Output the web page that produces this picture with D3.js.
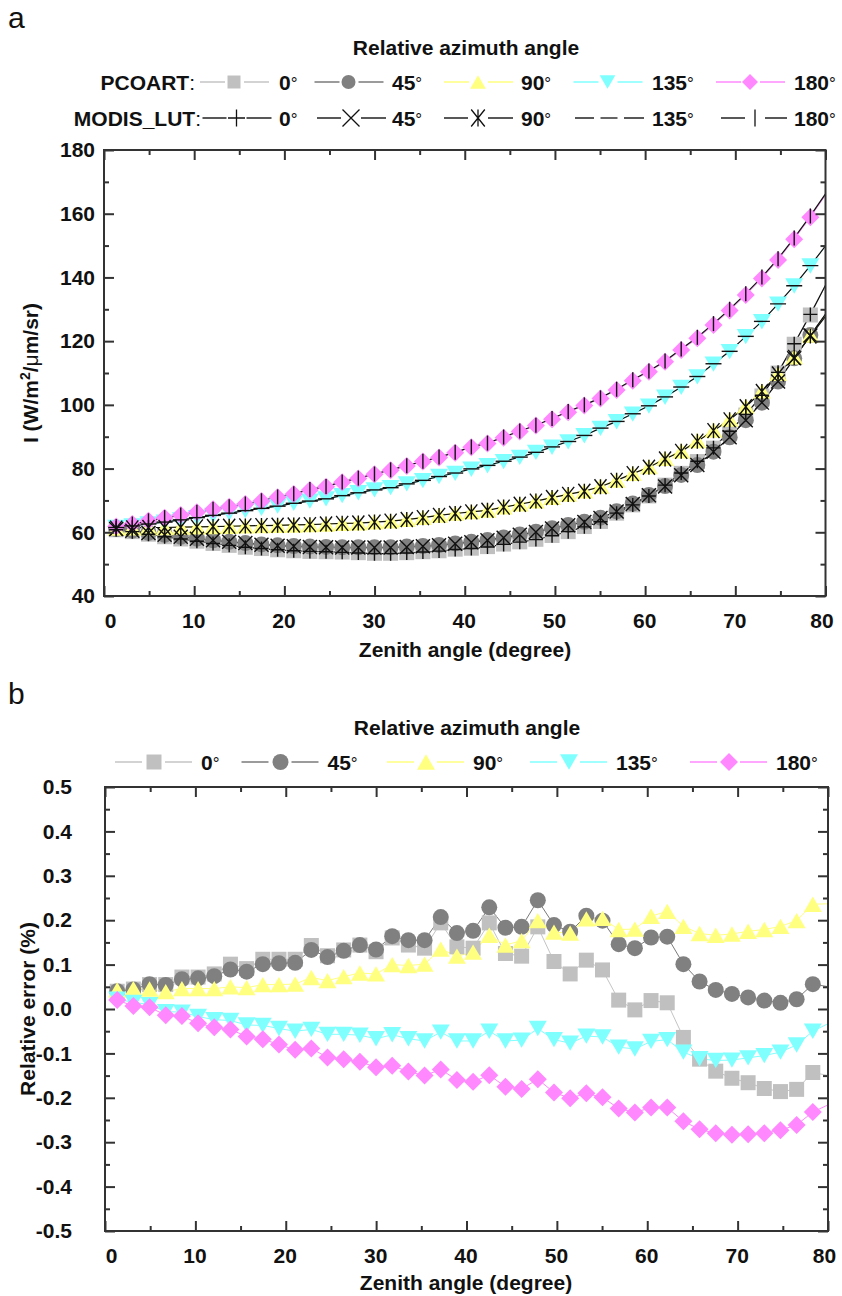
<!DOCTYPE html>
<html>
<head>
<meta charset="utf-8">
<script src="https://cdn.jsdelivr.net/npm/d3@7/dist/d3.min.js"></script>
<style>
html,body{margin:0;padding:0;background:#fff;}
svg text{font-family:"Liberation Sans",Arial,Helvetica,sans-serif;}
</style>
</head>
<body>
<svg id="chart" width="842" height="1296" xmlns="http://www.w3.org/2000/svg"></svg>
<script>
// ---------------- DATA ----------------
const zenith = [1.35,3.14,4.93,6.72,8.51,10.30,12.09,13.88,15.67,17.46,19.25,21.04,22.83,24.62,26.41,28.20,29.99,31.78,33.57,35.36,37.15,38.94,40.73,42.52,44.31,46.10,47.89,49.68,51.47,53.26,55.05,56.84,58.63,60.42,62.21,64.00,65.79,67.58,69.37,71.16,72.95,74.74,76.53,78.32,80.11];
const azimuthLabels = ["0","45","90","135","180"];

// Panel a: radiance I (W/m2/um/sr), PCOART
const pcoart0   = [60.8,60.2,59.4,58.6,57.9,57.2,56.5,55.9,55.3,54.9,54.5,54.2,54.0,53.9,53.8,53.6,53.4,53.4,53.6,53.9,54.2,54.7,55.0,55.5,56.3,57.0,57.8,59.0,60.2,61.8,63.4,66.0,68.6,71.4,74.8,78.5,82.2,86.4,91.6,96.8,102.8,110.0,119.0,128.2,138.0];
const pcoart45  = [61.0,60.5,59.8,59.2,58.6,58.0,57.5,57.0,56.6,56.2,55.9,55.7,55.5,55.4,55.3,55.3,55.3,55.3,55.5,55.7,56.0,56.5,57.0,57.6,58.4,59.3,60.2,61.3,62.3,63.3,64.6,66.6,69.0,71.7,74.5,78.0,81.1,85.3,89.8,95.2,100.7,107.3,114.6,121.9,129.0];
const pcoart90  = [61.3,61.4,61.5,61.5,61.6,61.7,61.8,61.9,62.0,62.1,62.2,62.3,62.4,62.6,62.8,63.0,63.3,63.6,64.1,64.7,65.4,66.0,66.5,67.0,68.0,68.9,69.9,71.0,72.0,73.0,74.5,76.4,78.5,80.6,83.2,85.6,88.8,92.1,95.5,99.6,104.4,109.9,115.1,121.9,128.5];
const pcoart135 = [61.5,62.0,62.6,63.2,63.9,64.6,65.3,66.0,66.8,67.5,68.2,69.1,69.8,70.5,71.5,72.4,73.3,74.0,75.2,76.2,77.5,78.5,79.8,80.9,82.2,83.5,85.1,86.7,88.4,90.3,92.6,94.7,97.1,99.6,102.4,105.5,108.8,112.8,116.7,121.4,126.1,131.6,137.3,143.6,150.3];
const pcoart180 = [61.8,62.6,63.6,64.6,65.4,66.3,67.2,68.0,68.9,69.8,71.0,72.0,73.3,74.3,75.7,76.9,78.2,79.5,80.8,82.2,83.5,85.0,86.7,87.9,89.7,91.6,93.5,95.5,97.7,99.8,102.0,104.7,107.6,110.4,113.5,117.2,120.9,125.1,129.6,134.5,139.7,145.5,152.0,158.9,166.3];

// Panel a: radiance I, MODIS_LUT
const modis0   = [60.8,60.2,59.4,58.6,57.9,57.2,56.5,55.9,55.3,54.9,54.5,54.2,54.0,53.9,53.7,53.5,53.3,53.3,53.5,53.8,54.1,54.6,54.9,55.4,56.2,56.9,57.7,58.9,60.2,61.7,63.3,66.0,68.6,71.4,74.8,78.6,82.3,86.5,91.7,97.0,103.0,110.2,119.2,128.4,138.2];
const modis45  = [61.0,60.5,59.8,59.2,58.6,58.0,57.5,57.0,56.6,56.1,55.8,55.6,55.4,55.3,55.2,55.2,55.2,55.2,55.4,55.6,55.9,56.4,56.9,57.5,58.3,59.2,60.1,61.2,62.2,63.2,64.5,66.5,68.9,71.6,74.4,77.9,81.1,85.3,89.8,95.2,100.7,107.3,114.6,121.8,128.9];
const modis90  = [61.3,61.4,61.5,61.5,61.6,61.7,61.8,61.9,62.0,62.1,62.2,62.3,62.4,62.6,62.8,62.9,63.2,63.5,64.0,64.6,65.3,65.9,66.4,66.9,67.9,68.8,69.8,70.9,71.9,72.9,74.3,76.3,78.4,80.4,83.0,85.4,88.6,91.9,95.3,99.4,104.2,109.7,114.9,121.6,128.2];
const modis135 = [61.5,62.0,62.6,63.2,63.9,64.6,65.3,66.0,66.8,67.5,68.2,69.1,69.8,70.5,71.5,72.4,73.3,74.0,75.2,76.3,77.5,78.6,79.9,81.0,82.3,83.6,85.1,86.8,88.5,90.4,92.7,94.8,97.2,99.7,102.5,105.6,108.9,112.9,116.8,121.5,126.2,131.7,137.4,143.7,150.3];
const modis180 = [61.8,62.6,63.6,64.6,65.4,66.3,67.2,68.0,68.9,69.9,71.1,72.1,73.4,74.4,75.8,77.0,78.3,79.6,80.9,82.3,83.6,85.1,86.8,88.0,89.9,91.8,93.6,95.7,97.9,100.0,102.2,104.9,107.9,110.6,113.8,117.5,121.2,125.5,130.0,134.9,140.1,145.9,152.4,159.3,166.7];

// Panel b: relative error (%)
const err0   = [0.040,0.045,0.055,0.055,0.072,0.072,0.079,0.101,0.091,0.112,0.112,0.112,0.143,0.120,0.133,0.144,0.129,0.160,0.144,0.137,0.194,0.140,0.137,0.194,0.125,0.119,0.185,0.107,0.079,0.110,0.088,0.020,-0.002,0.019,0.014,-0.064,-0.113,-0.140,-0.156,-0.166,-0.179,-0.186,-0.181,-0.143,-0.150];
const err45  = [0.040,0.044,0.056,0.054,0.067,0.069,0.074,0.089,0.084,0.101,0.103,0.104,0.133,0.117,0.131,0.144,0.134,0.164,0.155,0.155,0.207,0.171,0.176,0.229,0.183,0.185,0.245,0.189,0.174,0.210,0.199,0.146,0.137,0.161,0.163,0.101,0.062,0.043,0.034,0.026,0.019,0.014,0.022,0.056,0.050];
const err90  = [0.043,0.046,0.045,0.039,0.046,0.046,0.046,0.050,0.048,0.055,0.055,0.056,0.071,0.064,0.073,0.081,0.079,0.100,0.098,0.101,0.135,0.119,0.128,0.166,0.144,0.154,0.199,0.173,0.171,0.203,0.204,0.179,0.180,0.209,0.220,0.186,0.170,0.166,0.169,0.175,0.179,0.186,0.199,0.236,0.237];
const err135 = [0.022,0.015,0.010,-0.006,-0.007,-0.017,-0.024,-0.026,-0.036,-0.037,-0.044,-0.050,-0.046,-0.057,-0.057,-0.059,-0.067,-0.058,-0.067,-0.072,-0.052,-0.072,-0.072,-0.050,-0.072,-0.070,-0.044,-0.069,-0.077,-0.061,-0.063,-0.086,-0.090,-0.073,-0.069,-0.097,-0.112,-0.116,-0.115,-0.110,-0.105,-0.097,-0.081,-0.050,-0.032];
const err180 = [0.020,0.007,0.004,-0.014,-0.016,-0.032,-0.041,-0.046,-0.062,-0.068,-0.080,-0.092,-0.089,-0.109,-0.113,-0.119,-0.131,-0.128,-0.141,-0.150,-0.136,-0.160,-0.164,-0.149,-0.175,-0.180,-0.158,-0.188,-0.201,-0.190,-0.199,-0.224,-0.233,-0.222,-0.222,-0.253,-0.271,-0.280,-0.283,-0.282,-0.280,-0.273,-0.261,-0.232,-0.215];

// Ticks
const xTicksMajor = [0,10,20,30,40,50,60,70,80];
const xTicksMinor = [5,15,25,35,45,55,65,75];
const yTicksMajorA = [40,60,80,100,120,140,160,180];
const yTicksMinorA = [50,70,90,110,130,150,170];
const yTicksMajorB = [-0.5,-0.4,-0.3,-0.2,-0.1,0,0.1,0.2,0.3,0.4,0.5];
const yTicksMinorB = [-0.45,-0.35,-0.25,-0.15,-0.05,0.05,0.15,0.25,0.35,0.45];

// ---------------- STYLE ----------------
const FONT = '"Liberation Sans", Arial, Helvetica, sans-serif';
const FS = 21;
const fillColors = ["#c0c0c0","#808080","#ffff80","#80ffff","#ff88ff"];
const lineColors = ["#c4c4c4","#7a7a7a","#ffff80","#80ffff","#ff88ff"];
const pcoartShapes = ["square","circle","triUp","triDown","diamond"];
const modisShapes = ["plus","cross","star","hbar","vbar"];

function shapePath(type, s) {
  const h = s / 2;
  switch (type) {
    case "square":  return `M${-h},${-h}h${s}v${s}h${-s}Z`;
    case "circle":  return `M${h},0A${h},${h} 0 1,1 ${-h},0A${h},${h} 0 1,1 ${h},0Z`;
    case "triUp":   { const w = s * 0.56, t = s * 0.48; return `M0,${-t}L${w},${t}L${-w},${t}Z`; }
    case "triDown": { const w = s * 0.56, t = s * 0.48; return `M0,${t}L${w},${-t}L${-w},${-t}Z`; }
    case "diamond": return `M0,${-h}L${h},0L0,${h}L${-h},0Z`;
    case "plus":    return `M${-h},0H${h}M0,${-h}V${h}`;
    case "cross":   return `M${-h},${-h}L${h},${h}M${h},${-h}L${-h},${h}`;
    case "star":    return `M${-h*0.8},${-h}L${h*0.8},${h}M${h*0.8},${-h}L${-h*0.8},${h}M0,${-h}V${h}`;
    case "hbar":    return `M${-h},0H${h}`;
    case "vbar":    return `M0,${-h}V${h}`;
  }
}
const shapeSize = {square:15, circle:16, triUp:16, triDown:16, diamond:18, plus:14, cross:14, star:15, hbar:16, vbar:15};

const svg = d3.select("#chart");

function axesAndFrame(g, x, y, yMajor, yMinor, yFmt, yPad) {
  const [x0, x1] = x.range();
  const [yb, yt] = y.range();
  const styleAxis = sel => {
    sel.select(".domain").remove();
    sel.attr("color", "#333").attr("font-size", FS).attr("font-family", FONT).attr("font-weight", "bold");
    sel.selectAll(".tick line").attr("stroke-width", 2);
    sel.selectAll(".tick text").attr("fill", "#111");
  };
  const bx = g.append("g").attr("transform", `translate(0,${yb})`)
    .call(d3.axisBottom(x).tickValues(xTicksMajor).tickSize(-10).tickPadding(17).tickFormat(d3.format("d")))
    .call(styleAxis);
  bx.selectAll(".tick text").attr("dx", d => d === 0 ? 6 : (d === 80 ? -4 : -1));
  g.append("g").attr("transform", `translate(0,${yb})`)
    .call(d3.axisBottom(x).tickValues(xTicksMinor).tickSize(-5).tickFormat("")).call(styleAxis);
  g.append("g").attr("transform", `translate(0,${yt})`)
    .call(d3.axisTop(x).tickValues(xTicksMajor).tickSize(-10).tickFormat("")).call(styleAxis);
  g.append("g").attr("transform", `translate(0,${yt})`)
    .call(d3.axisTop(x).tickValues(xTicksMinor).tickSize(-5).tickFormat("")).call(styleAxis);
  g.append("g").attr("transform", `translate(${x0},0)`)
    .call(d3.axisLeft(y).tickValues(yMajor).tickSize(-10).tickPadding(yPad).tickFormat(yFmt)).call(styleAxis);
  g.append("g").attr("transform", `translate(${x0},0)`)
    .call(d3.axisLeft(y).tickValues(yMinor).tickSize(-5).tickFormat("")).call(styleAxis);
  g.append("g").attr("transform", `translate(${x1},0)`)
    .call(d3.axisRight(y).tickValues(yMajor).tickSize(-10).tickFormat("")).call(styleAxis);
  g.append("g").attr("transform", `translate(${x1},0)`)
    .call(d3.axisRight(y).tickValues(yMinor).tickSize(-5).tickFormat("")).call(styleAxis);
  g.append("rect").attr("x", x0).attr("y", yt).attr("width", x1 - x0).attr("height", yb - yt)
    .attr("fill", "none").attr("stroke", "#333").attr("stroke-width", 2);
}

function addClip(id, x, y) {
  const [x0, x1] = x.range();
  const [yb, yt] = y.range();
  svg.append("defs").append("clipPath").attr("id", id)
    .append("rect").attr("x", x0).attr("y", yt).attr("width", x1 - x0).attr("height", yb - yt);
}

function bold(sel) { return sel.attr("font-family", FONT).attr("font-weight", "bold").attr("font-size", FS).attr("fill", "#111"); }

function degreeLabel(g, tx, ty, label) {
  const t = bold(g.append("text").attr("x", tx).attr("y", ty));
  t.append("tspan").text(label);
  t.append("tspan").attr("font-weight", "normal").attr("font-size", 17).attr("dy", -1).text("°");
}

// ================= PANEL A =================
const xA = d3.scaleLinear().domain([0, 80]).range([104, 825.5]);
const yA = d3.scaleLinear().domain([40, 180]).range([596, 150]);
addClip("clipA", xA, yA);
const gA = svg.append("g");
const plotA = gA.append("g").attr("clip-path", "url(#clipA)");
const pcoartA = [pcoart0, pcoart45, pcoart90, pcoart135, pcoart180];
const modisA = [modis0, modis45, modis90, modis135, modis180];
const lineA = d3.line().x((d, i) => xA(zenith[i])).y(d => yA(d));

pcoartA.forEach((s, j) => {
  plotA.append("path").attr("d", lineA(s)).attr("fill", "none").attr("stroke", lineColors[j]).attr("stroke-width", 1);
});
modisA.forEach((s) => {
  plotA.append("path").attr("d", lineA(s)).attr("fill", "none").attr("stroke", "#111").attr("stroke-width", 1.2);
});
pcoartA.forEach((s, j) => {
  plotA.append("g").selectAll("path").data(s.filter((d, i) => zenith[i] <= 80)).join("path")
    .attr("transform", (d, i) => `translate(${xA(zenith[i])},${yA(d)})`)
    .attr("d", shapePath(pcoartShapes[j], shapeSize[pcoartShapes[j]]))
    .attr("fill", fillColors[j]);
});
modisA.forEach((s, j) => {
  plotA.append("g").selectAll("path").data(s.filter((d, i) => zenith[i] <= 80)).join("path")
    .attr("transform", (d, i) => `translate(${xA(zenith[i])},${yA(d)})`)
    .attr("d", shapePath(modisShapes[j], shapeSize[modisShapes[j]]))
    .attr("fill", "none").attr("stroke", "#111").attr("stroke-width", 1.4);
});
axesAndFrame(gA, xA, yA, yTicksMajorA, yTicksMinorA, d3.format("d"), 9);

bold(gA.append("text").attr("x", 465).attr("y", 657).attr("text-anchor", "middle")).text("Zenith angle (degree)");
{
  const t = bold(gA.append("text").attr("transform", "translate(38,373) rotate(-90)").attr("text-anchor", "middle"));
  t.append("tspan").text("I (W/m");
  t.append("tspan").attr("font-size", 14).attr("dy", -8).text("2");
  t.append("tspan").attr("dy", 8).text("/");
  t.append("tspan").attr("font-weight", "normal").text("μ");
  t.append("tspan").text("m/sr)");
}

svg.append("text").attr("x", 8).attr("y", 28).attr("font-family", FONT).attr("font-size", 30).attr("fill", "#111").text("a");
bold(svg.append("text").attr("x", 466).attr("y", 55).attr("text-anchor", "middle")).text("Relative azimuth angle");

const legARow1 = 82, legARow2 = 118;
const legAMarkerX1 = [234, 348.5, 478, 607.5, 750];
const legAMarkerX2 = [236.5, 351, 478, 609, 755];
const legATextX = [279, 392, 521, 652, 794];
{
  const t = bold(svg.append("text").attr("x", 195).attr("y", legARow1 + 7.5).attr("text-anchor", "end"));
  t.append("tspan").text("PCOART");
  t.append("tspan").attr("font-weight", "normal").text(":");
  const t2 = bold(svg.append("text").attr("x", 201).attr("y", legARow2 + 7.5).attr("text-anchor", "end"));
  t2.append("tspan").text("MODIS_LUT");
  t2.append("tspan").attr("font-weight", "normal").text(":");
}
azimuthLabels.forEach((lab, j) => {
  const mx = legAMarkerX1[j];
  svg.append("line").attr("x1", mx - 34).attr("x2", mx - 9).attr("y1", legARow1).attr("y2", legARow1).attr("stroke", lineColors[j]).attr("stroke-width", 1.5);
  svg.append("line").attr("x1", mx + 10).attr("x2", mx + 35).attr("y1", legARow1).attr("y2", legARow1).attr("stroke", lineColors[j]).attr("stroke-width", 1.5);
  svg.append("path").attr("transform", `translate(${mx},${legARow1})`).attr("d", shapePath(pcoartShapes[j], shapeSize[pcoartShapes[j]] - 2)).attr("fill", fillColors[j]);
  degreeLabel(svg, legATextX[j], legARow1 + 7.5, lab);

  const mx2 = legAMarkerX2[j];
  const gap = modisShapes[j] === "hbar" ? 15 : 10;
  const reach = modisShapes[j] === "vbar" ? 32 : 35;
  svg.append("line").attr("x1", mx2 - 34).attr("x2", mx2 - gap).attr("y1", legARow2).attr("y2", legARow2).attr("stroke", "#111").attr("stroke-width", 1.4);
  svg.append("line").attr("x1", mx2 + gap).attr("x2", mx2 + reach).attr("y1", legARow2).attr("y2", legARow2).attr("stroke", "#111").attr("stroke-width", 1.4);
  svg.append("path").attr("transform", `translate(${mx2},${legARow2})`).attr("d", shapePath(modisShapes[j], 17)).attr("fill", "none").attr("stroke", "#111").attr("stroke-width", 1.3);
  degreeLabel(svg, legATextX[j], legARow2 + 7.5, lab);
});

// ================= PANEL B =================
const xB = d3.scaleLinear().domain([0, 80]).range([105, 828]);
const yB = d3.scaleLinear().domain([-0.5, 0.5]).range([1231, 787]);
addClip("clipB", xB, yB);
const gB = svg.append("g");
const plotB = gB.append("g").attr("clip-path", "url(#clipB)");
const errB = [err0, err45, err90, err135, err180];
const lineB = d3.line().x((d, i) => xB(zenith[i])).y(d => yB(d));
errB.forEach((s, j) => {
  plotB.append("path").attr("d", lineB(s)).attr("fill", "none").attr("stroke", lineColors[j]).attr("stroke-width", 1);
});
errB.forEach((s, j) => {
  plotB.append("g").selectAll("path").data(s.filter((d, i) => zenith[i] <= 80)).join("path")
    .attr("transform", (d, i) => `translate(${xB(zenith[i])},${yB(d)})`)
    .attr("d", shapePath(pcoartShapes[j], shapeSize[pcoartShapes[j]]))
    .attr("fill", fillColors[j]);
});
axesAndFrame(gB, xB, yB, yTicksMajorB, yTicksMinorB, d => d.toFixed(1), 33);

bold(gB.append("text").attr("x", 466).attr("y", 1290).attr("text-anchor", "middle")).text("Zenith angle (degree)");
bold(gB.append("text").attr("transform", "translate(35,1009) rotate(-90)").attr("text-anchor", "middle")).text("Relative error (%)");

svg.append("text").attr("x", 8).attr("y", 704).attr("font-family", FONT).attr("font-size", 30).attr("fill", "#111").text("b");
bold(svg.append("text").attr("x", 467).attr("y", 735).attr("text-anchor", "middle")).text("Relative azimuth angle");
const legBRow = 762;
const legBMarkerX = [154, 280.5, 426, 569, 729];
azimuthLabels.forEach((lab, j) => {
  const mx = legBMarkerX[j];
  svg.append("line").attr("x1", mx - 39).attr("x2", mx - 12).attr("y1", legBRow).attr("y2", legBRow).attr("stroke", lineColors[j]).attr("stroke-width", 1.5);
  svg.append("line").attr("x1", mx + 11).attr("x2", mx + 38).attr("y1", legBRow).attr("y2", legBRow).attr("stroke", lineColors[j]).attr("stroke-width", 1.5);
  svg.append("path").attr("transform", `translate(${mx},${legBRow})`).attr("d", shapePath(pcoartShapes[j], shapeSize[pcoartShapes[j]])).attr("fill", fillColors[j]);
  degreeLabel(svg, mx + 47, legBRow + 7.5, lab);
});
</script>
</body>
</html>
